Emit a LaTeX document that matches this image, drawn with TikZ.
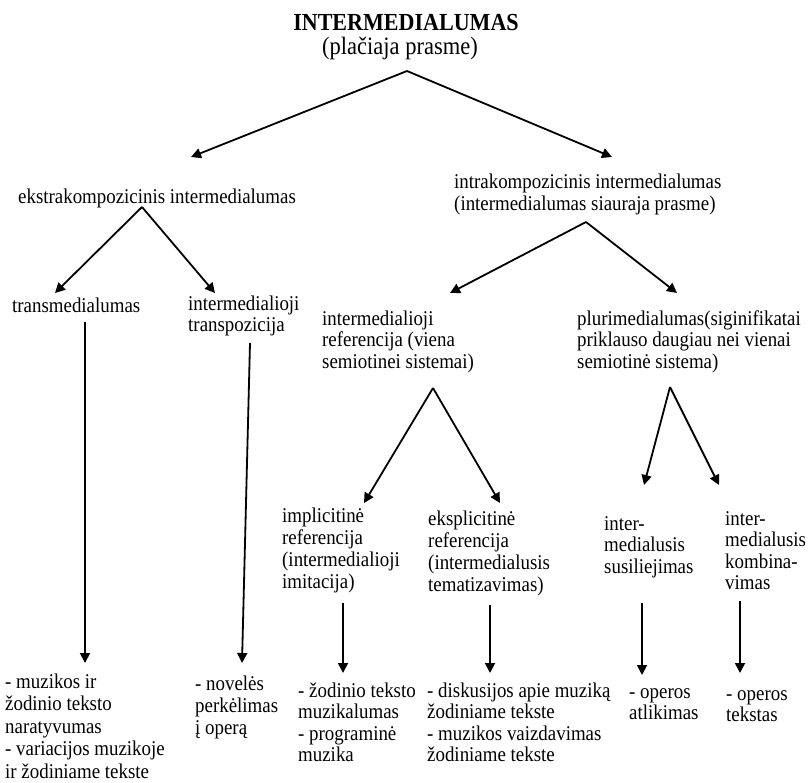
\documentclass[tikz,border=0pt]{standalone}
\usepackage{fontspec}
\setmainfont{Liberation Serif}[FakeStretch=0.9]
\usetikzlibrary{arrows.meta}
\newcommand{\mlines}[1]{\begin{tabular}[t]{@{}l@{}}#1\end{tabular}}
\begin{document}
\begin{tikzpicture}[x=1pt,y=-1pt,
  txt/.style={inner sep=0pt, anchor=base west, font=\fontsize{21}{22}\selectfont},
  txtb/.style={inner sep=0pt, anchor=base west, font=\fontsize{21}{21.5}\selectfont},
  arr/.style={line width=1.8pt, -{Triangle[length=10pt,width=10pt]}}]
\useasboundingbox (0,0) rectangle (808,782);

% titles
\node[inner sep=0pt, anchor=base, font=\bfseries\fontsize{24.5}{24}\selectfont] (title) at (406,30) {INTERMEDIALUMAS};
\node[inner sep=0pt, anchor=base, font=\fontsize{25}{24}\selectfont] (sub) at (400,54) {(plačiaja prasme)};

% level 1
\node[txt] (ekstra) at (18,203) {ekstrakompozicinis intermedialumas};
\node[txt] (intra) at (454,188) {\mlines{intrakompozicinis intermedialumas\\(intermedialumas siauraja prasme)}};

% level 2
\node[txt] (trans) at (12,312) {transmedialumas};
\node[txtb] (transp) at (188,310) {\mlines{intermedialioji\\transpozicija}};
\node[txtb] (ref) at (322,325) {\mlines{intermedialioji\\referencija (viena\\semiotinei sistemai)}};
\node[txtb] (pluri) at (577,325) {\mlines{plurimedialumas(siginifikatai\\priklauso daugiau nei vienai\\semiotinė sistema)}};

% level 3
\node[txt] (impl) at (282,522) {\mlines{implicitinė\\referencija\\(intermedialioji\\imitacija)}};
\node[txt] (expl) at (428,525) {\mlines{eksplicitinė\\referencija\\(intermedialusis\\tematizavimas)}};
\node[txtb] (fus) at (604,530) {\mlines{inter-\\medialusis\\susiliejimas}};
\node[txtb] (komb) at (725,525) {\mlines{inter-\\medialusis\\kombina-\\vimas}};

% examples
\node[txt, font=\fontsize{21}{22.5}\selectfont] (ex1) at (5,688) {\mlines{- muzikos ir\\žodinio teksto\\naratyvumas\\- variacijos muzikoje\\ir žodiniame tekste}};
\node[txt] (ex2) at (195,690) {\mlines{- novelės\\perkėlimas\\į operą}};
\node[txtb] (ex3) at (298,697) {\mlines{- žodinio teksto\\muzikalumas\\- programinė\\muzika}};
\node[txtb] (ex4) at (427,697) {\mlines{- diskusijos apie muziką\\žodiniame tekste\\- muzikos vaizdavimas\\žodiniame tekste}};
\node[txtb] (ex5) at (629,698) {\mlines{- operos\\atlikimas}};
\node[txtb] (ex6) at (726,700) {\mlines{- operos\\tekstas}};

% connector points
\coordinate (a0) at (407,71);  \coordinate (l0) at (191,157); \coordinate (r0) at (612,157);
\coordinate (a1) at (142,207); \coordinate (l1) at (55,293);  \coordinate (r1) at (215,293);
\coordinate (a2) at (586,222); \coordinate (l2) at (450,293); \coordinate (r2) at (677,293);
\coordinate (a3) at (433,388); \coordinate (l3) at (364,503); \coordinate (r3) at (500,503);
\coordinate (a4) at (670,387); \coordinate (l4) at (644,485); \coordinate (r4) at (719,485);
\coordinate (v1s) at (85,322);  \coordinate (v1e) at (85,663);
\coordinate (v2s) at (250,343); \coordinate (v2e) at (242,663);
\coordinate (v3s) at (343,603); \coordinate (v3e) at (343,673);
\coordinate (v4s) at (490,605); \coordinate (v4e) at (490,673);
\coordinate (v5s) at (642,603); \coordinate (v5e) at (642,675);
\coordinate (v6s) at (740,601); \coordinate (v6e) at (740,673);

\draw[arr] (a0) -- (l0);
\draw[arr] (a0) -- (r0);
\draw[arr] (a1) -- (l1);
\draw[arr] (a1) -- (r1);
\draw[arr] (a2) -- (l2);
\draw[arr] (a2) -- (r2);
\draw[arr] (a3) -- (l3);
\draw[arr] (a3) -- (r3);
\draw[arr] (a4) -- (l4);
\draw[arr] (a4) -- (r4);
\draw[arr] (v1s) -- (v1e);
\draw[arr] (v2s) -- (v2e);
\draw[arr] (v3s) -- (v3e);
\draw[arr] (v4s) -- (v4e);
\draw[arr] (v5s) -- (v5e);
\draw[arr] (v6s) -- (v6e);
\end{tikzpicture}
\end{document}
